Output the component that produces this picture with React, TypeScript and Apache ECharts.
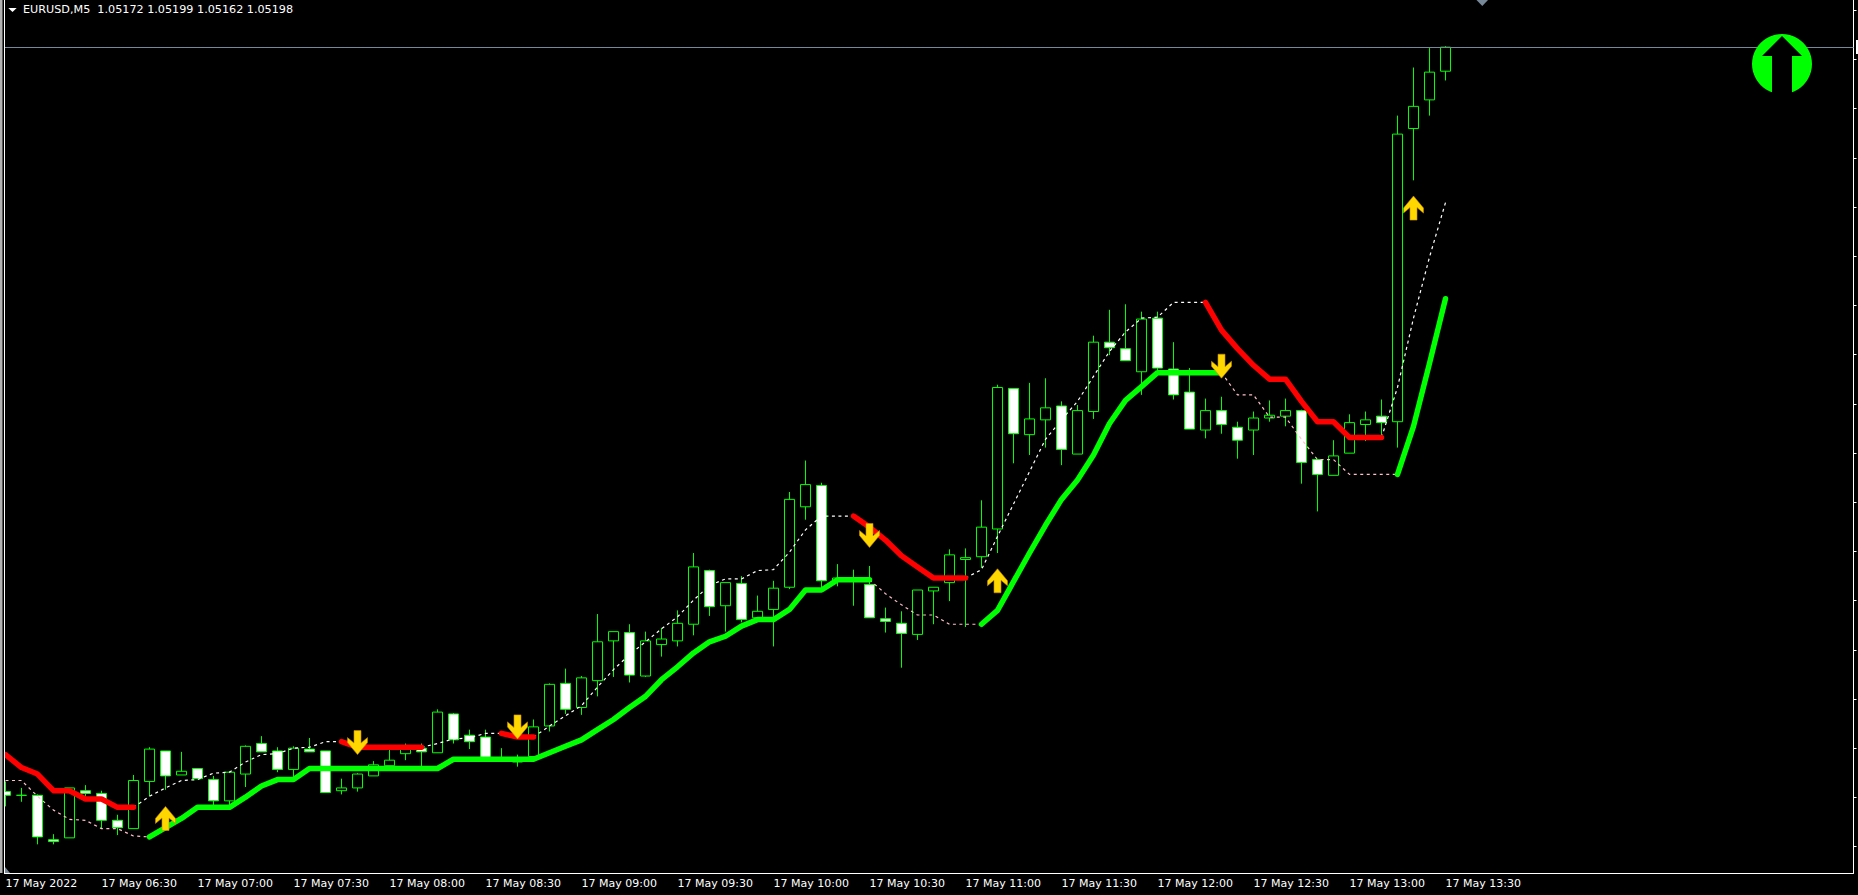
import React, { useEffect, useRef } from "react";
import * as echarts from "echarts";

const tickLabels = [
  "17 May 2022", "17 May 06:30", "17 May 07:00", "17 May 07:30", "17 May 08:00", "17 May 08:30",
  "17 May 09:00", "17 May 09:30", "17 May 10:00", "17 May 10:30", "17 May 11:00", "17 May 11:30",
  "17 May 12:00", "17 May 12:30", "17 May 13:00", "17 May 13:30",
];
const headerText = "EURUSD,M5  1.05172 1.05199 1.05162 1.05198";
const lastPrice = 1.05198;
const priceMin = 1.04305;
const priceMax = 1.05249;
const priceTicks = [
  1.05238, 1.05185, 1.05132, 1.05078, 1.05025, 1.04972, 1.04919, 1.04866, 1.04812,
  1.04759, 1.04706, 1.04653, 1.046, 1.04546, 1.04493, 1.0444, 1.04387, 1.04334,
];

const opens = [
  1.04393, 1.04389, 1.04389, 1.04341, 1.04343, 1.04394, 1.04391, 1.04362, 1.04353, 1.04404,
  1.04437, 1.04411, 1.04418, 1.04406, 1.04383, 1.04412, 1.04445, 1.04437, 1.04417, 1.04439,
  1.04437, 1.04394, 1.04397, 1.0441, 1.04421, 1.04434, 1.0444, 1.04435, 1.04477, 1.04454,
  1.04452, 1.04427, 1.04425, 1.04431, 1.04464, 1.0451, 1.04484, 1.04513, 1.04556, 1.04565,
  1.04518, 1.04552, 1.04556, 1.04574, 1.04632, 1.04594, 1.04618, 1.04581, 1.0459, 1.04614,
  1.04701, 1.04724, 1.04621, 1.04621, 1.04617, 1.0458, 1.04575, 1.04563, 1.0461, 1.04619,
  1.04644, 1.04647, 1.04677, 1.04829, 1.04779, 1.04795, 1.0481, 1.04758, 1.04804, 1.04879,
  1.04872, 1.04847, 1.04905, 1.0485, 1.04825, 1.04784, 1.04805, 1.04787, 1.04784, 1.04797,
  1.04799, 1.04805, 1.04752, 1.04735, 1.04759, 1.0479, 1.04799, 1.04793, 1.0511, 1.05141,
  1.05172,
];
const closes = [
  1.04389, 1.04389, 1.04344, 1.04339, 1.04397, 1.04391, 1.04362, 1.04354, 1.04405, 1.04439,
  1.0441, 1.04415, 1.04407, 1.04383, 1.04414, 1.04442, 1.04436, 1.04417, 1.0444, 1.04436,
  1.04392, 1.04397, 1.04412, 1.04422, 1.04427, 1.04439, 1.04436, 1.04479, 1.04449, 1.04447,
  1.04429, 1.04428, 1.04429, 1.04463, 1.04509, 1.04482, 1.04516, 1.04555, 1.04566, 1.04519,
  1.04556, 1.04558, 1.04575, 1.04636, 1.04593, 1.04619, 1.04579, 1.04588, 1.04613, 1.04709,
  1.04725, 1.04621, 1.04624, 1.04623, 1.04581, 1.04577, 1.04564, 1.04611, 1.04614, 1.04649,
  1.04646, 1.04679, 1.0483, 1.0478, 1.04796, 1.04808, 1.04763, 1.04805, 1.04879, 1.04873,
  1.04859, 1.04904, 1.04851, 1.04822, 1.04785, 1.04805, 1.0479, 1.04773, 1.04797, 1.048,
  1.04805, 1.04749, 1.04736, 1.04756, 1.04792, 1.04795, 1.04792, 1.05104, 1.05134, 1.05171,
  1.05198,
];
const lows = [
  1.04377, 1.04382, 1.04336, 1.04336, 1.04343, 1.04387, 1.04353, 1.04346, 1.04353, 1.04388,
  1.04395, 1.04411, 1.04407, 1.04376, 1.04376, 1.04398, 1.04436, 1.04414, 1.04408, 1.04436,
  1.04392, 1.0439, 1.04393, 1.0441, 1.04421, 1.04427, 1.0442, 1.04435, 1.04445, 1.04439,
  1.04427, 1.04425, 1.0442, 1.04431, 1.04458, 1.04477, 1.04476, 1.04496, 1.04517, 1.04511,
  1.04517, 1.04539, 1.0455, 1.04562, 1.04583, 1.04566, 1.04576, 1.04579, 1.0455, 1.04612,
  1.04687, 1.04613, 1.04615, 1.04594, 1.04581, 1.04565, 1.04527, 1.04557, 1.04574, 1.04599,
  1.04571, 1.04635, 1.04651, 1.04748, 1.04757, 1.04765, 1.04746, 1.04758, 1.04796, 1.04865,
  1.04859, 1.04822, 1.04844, 1.04817, 1.04785, 1.04775, 1.0478, 1.04753, 1.04757, 1.04793,
  1.04788, 1.04726, 1.04696, 1.04735, 1.04759, 1.04772, 1.04776, 1.04765, 1.05054, 1.05124,
  1.05162,
];
const highs = [
  1.04404, 1.04397, 1.0439, 1.04347, 1.04397, 1.044, 1.04394, 1.04368, 1.04411, 1.04441,
  1.04437, 1.04436, 1.04418, 1.0441, 1.04415, 1.04443, 1.04453, 1.04441, 1.04442, 1.04451,
  1.04437, 1.04407, 1.04413, 1.04426, 1.04439, 1.04445, 1.04445, 1.04482, 1.04478, 1.0446,
  1.0446, 1.0444, 1.04433, 1.04471, 1.0451, 1.04526, 1.04518, 1.04585, 1.04566, 1.04574,
  1.04566, 1.0457, 1.04589, 1.04651, 1.04633, 1.04619, 1.04626, 1.04605, 1.04621, 1.04717,
  1.04751, 1.04727, 1.04639, 1.04633, 1.04637, 1.04592, 1.04588, 1.04611, 1.04614, 1.04655,
  1.04656, 1.04708, 1.04833, 1.04829, 1.04835, 1.0484, 1.04815, 1.04811, 1.04886, 1.04914,
  1.0492, 1.04912, 1.04912, 1.04879, 1.04851, 1.04818, 1.0482, 1.04793, 1.04804, 1.04816,
  1.04818, 1.04806, 1.04752, 1.04773, 1.04801, 1.04804, 1.04817, 1.05124, 1.05176, 1.05197,
  1.05199,
];

// Each run: first bar index, then the indicator's value on consecutive bars.
const redRuns: [number, number[]][] = [
  [0, [1.04433, 1.04419, 1.04412, 1.04394, 1.04394, 1.04385, 1.04385, 1.04376, 1.04376]],
  [21, [1.04447, 1.04441, 1.04441, 1.04441, 1.04441, 1.04441]],
  [31, [1.04456, 1.04452, 1.04452]],
  [53, [1.04691, 1.04679, 1.04665, 1.04648, 1.04636, 1.04624, 1.04624, 1.04624]],
  [75, [1.04922, 1.04892, 1.04872, 1.04854, 1.04839, 1.04839, 1.04815, 1.04793, 1.04793, 1.04776, 1.04776, 1.04776]],
];
const greenRuns: [number, number[]][] = [
  [9, [
    1.04344, 1.04354, 1.04364, 1.04376, 1.04376, 1.04376, 1.04387, 1.04399, 1.04406, 1.04406,
    1.04418, 1.04418, 1.04418, 1.04418, 1.04418, 1.04418, 1.04418, 1.04418, 1.04418,
    1.04428, 1.04428, 1.04428, 1.04428, 1.04428, 1.04428,
    1.04435, 1.04442, 1.04449, 1.0446, 1.04471, 1.04484, 1.04496, 1.04514, 1.04528, 1.04543,
    1.04555, 1.04561, 1.04572, 1.04579, 1.04579, 1.0459, 1.04611, 1.04611, 1.04622, 1.04622, 1.04622,
  ]],
  [61, [
    1.04574, 1.04589, 1.0462, 1.04651, 1.04681, 1.04709, 1.0473, 1.04757, 1.04791, 1.04816,
    1.04831, 1.04846, 1.04846, 1.04846, 1.04846, 1.04846,
  ]],
  [87, [1.04736, 1.04788, 1.04856, 1.04926]],
];
const whiteRuns: [number, number[]][] = [
  [8, [1.04376, 1.04388, 1.04397, 1.04405, 1.04406, 1.04413, 1.04414, 1.04425, 1.04433, 1.04434, 1.0444, 1.04441, 1.04447, 1.04447]],
  [26, [1.04441, 1.04445, 1.0445, 1.04451, 1.04456, 1.04456]],
  [33, [
    1.04452, 1.04464, 1.04475, 1.04486, 1.04506, 1.04525, 1.04541, 1.04555, 1.04569, 1.04582,
    1.046, 1.04616, 1.04623, 1.04623, 1.04632, 1.04633, 1.04652, 1.04676, 1.04691, 1.04691, 1.04691,
  ]],
  [60, [
    1.04624, 1.04633, 1.04669, 1.04704, 1.04739, 1.04774, 1.04795, 1.04815, 1.04842, 1.04869,
    1.0489, 1.04905, 1.04906, 1.04922, 1.04922, 1.04922,
  ]],
  [86, [1.04776, 1.0483, 1.04905, 1.04971, 1.0503]],
];
const pinkRuns: [number, number[]][] = [
  [0, [1.04405, 1.04405, 1.04388, 1.04373, 1.04363, 1.04362, 1.04353, 1.04353, 1.04345, 1.04344]],
  [54, [1.04622, 1.04607, 1.04595, 1.04584, 1.04584, 1.04574, 1.04574, 1.04574]],
  [76, [1.04846, 1.04822, 1.04822, 1.04798, 1.04798, 1.04774, 1.04752, 1.04752, 1.04736, 1.04736, 1.04736, 1.04736]],
];
const upArrows: [number, number][] = [[10, 1.04364], [62, 1.04621], [88, 1.05024]];
const downArrows: [number, number][] = [[22, 1.04446], [32, 1.04463], [54, 1.0467], [76, 1.04853]];

const BAR_SLOTS = 116;
const LAST_BAR = 90;
const categories = Array.from({ length: BAR_SLOTS }, (_, i) => {
  const m = 360 + i * 5;
  return `${String(Math.floor(m / 60)).padStart(2, "0")}:${String(m % 60).padStart(2, "0")}`;
});
const candleData = opens.map((o, i) => [o, closes[i], lows[i], highs[i]]);
const fromRuns = (runs: [number, number[]][]) => {
  const out: (number | null)[] = new Array(BAR_SLOTS).fill(null);
  runs.forEach(([start, vals]) => vals.forEach((v, i) => { out[start + i] = v; }));
  return out;
};
const showTick = (i: number) => i % 6 === 0 && i <= LAST_BAR;

const UP_ARROW = "path://M10 0 L20 12 L20 17 L13.5 11.5 L13.5 24 L6.5 24 L6.5 11.5 L0 17 L0 12 Z";
const DOWN_ARROW = "path://M10 24 L20 12 L20 7 L13.5 12.5 L13.5 0 L6.5 0 L6.5 12.5 L0 7 L0 12 Z";
const FONT = "'DejaVu Sans', sans-serif";
const SHIFT = 3; // the chart div starts this far left of the page

export default function App() {
  const ref = useRef<HTMLDivElement>(null);
  useEffect(() => {
    document.body.style.margin = "0";
    document.body.style.background = "#000";
    const chart = echarts.init(ref.current!, null, { renderer: "svg" });
    const thick = (name: string, runs: [number, number[]][], color: string) => ({
      name, type: "line", data: fromRuns(runs), showSymbol: false, symbol: "none", z: 5,
      connectNulls: false, silent: true,
      lineStyle: { color, width: 5.5, cap: "round", join: "round" },
    });
    const dashed = (name: string, runs: [number, number[]][], color: string, extra: object = {}) => ({
      name, type: "line", data: fromRuns(runs), showSymbol: false, symbol: "none", z: 4,
      connectNulls: false, silent: true,
      lineStyle: { color, width: 1.2, type: [3, 3.5] },
      ...extra,
    });
    const arrows = (name: string, data: [number, number][], symbol: string) => ({
      name, type: "scatter", data, symbol, symbolSize: [20, 24], z: 6, silent: true,
      itemStyle: { color: "#FFD700", borderColor: "#C88A00", borderWidth: 0.6, opacity: 1 },
    });
    const graphicZ = 100;
    chart.setOption({
      animation: false,
      backgroundColor: "#000000",
      title: {
        text: headerText, left: 23 + SHIFT, top: 4, padding: 0,
        textStyle: { color: "#ffffff", fontSize: 11.2, fontWeight: "normal", fontFamily: FONT },
      },
      grid: { left: 0.5, right: 4.5, top: 0, bottom: 22, containLabel: false },
      xAxis: {
        type: "category", data: categories, boundaryGap: true,
        axisLine: { lineStyle: { color: "#ffffff", width: 1 }, onZero: false },
        axisTick: { alignWithLabel: true, length: 3, interval: (i: number) => showTick(i), lineStyle: { color: "#ffffff" } },
        axisLabel: {
          color: "#ffffff", fontSize: 11, fontFamily: FONT, align: "left", margin: 5,
          interval: (i: number) => showTick(i),
          formatter: (_: string, i: number) => tickLabels[i / 6] ?? "",
        },
        splitLine: { show: false },
      },
      yAxis: {
        type: "value", position: "right", min: priceMin, max: priceMax, scale: true,
        axisLine: { show: true, lineStyle: { color: "#ffffff", width: 1 } },
        axisTick: { show: true, length: 3, customValues: priceTicks, lineStyle: { color: "#ffffff" } },
        axisLabel: { show: false },
        splitLine: { show: false },
      },
      series: [
        {
          name: "EURUSD", type: "candlestick", data: candleData, barWidth: 11, z: 2, silent: true,
          itemStyle: {
            color: "#000000", color0: "#ffffff",
            borderColor: "#00ff00", borderColor0: "#00ff00", borderColorDoji: "#00ff00", borderWidth: 1,
          },
        },
        dashed("pink", pinkRuns, "#FFC0CB"),
        dashed("white", whiteRuns, "#ffffff", {
          markLine: {
            silent: true, symbol: "none", animation: false, precision: 5,
            label: { show: false },
            lineStyle: { color: "#778899", width: 1, type: "solid" },
            data: [{ yAxis: lastPrice }],
          },
        }),
        thick("green", greenRuns, "#00FF00"),
        thick("red", redRuns, "#FF0000"),
        arrows("up", upArrows, UP_ARROW),
        arrows("down", downArrows, DOWN_ARROW),
      ],
      graphic: { elements: [
        {
          type: "group", x: SHIFT, y: 0, z: graphicZ,
          children: [
            { type: "rect", z: graphicZ, shape: { x: -SHIFT, y: 0, width: 4 + SHIFT, height: 895 }, style: { fill: "#000000" } },
            { type: "rect", z: graphicZ, shape: { x: 0, y: 0, width: 2.5, height: 873 }, style: { fill: "#B0B0B0" } },
            { type: "line", z: graphicZ, shape: { x1: 4.5, y1: 0, x2: 4.5, y2: 873 }, style: { stroke: "#ffffff", lineWidth: 1 } },
            { type: "polygon", z: graphicZ, shape: { points: [[5, 873], [5, 867], [10, 873]] }, style: { fill: "#778899" } },
            { type: "polygon", z: graphicZ, shape: { points: [[8.3, 8], [16.7, 8], [12.5, 12]] }, style: { fill: "#ffffff" } },
            { type: "polygon", z: graphicZ, shape: { points: [[1476.5, 0], [1488, 0], [1482.3, 6]] }, style: { fill: "#778899" } },
            { type: "rect", z: graphicZ, shape: { x: 1856, y: 40, width: 2, height: 14 }, style: { fill: "#ffffff" } },
            { type: "circle", z: graphicZ, shape: { cx: 1782, cy: 64, r: 30 }, style: { fill: "#00FF00" } },
            { type: "polygon", z: graphicZ + 1, shape: { points: [[1782, 36], [1802, 56], [1792, 56], [1792, 95], [1772, 95], [1772, 56], [1762, 56]] }, style: { fill: "#000000" } },
          ],
        },
      ] },
    });
    return () => chart.dispose();
  }, []);
  return <div ref={ref} style={{ position: "fixed", left: -SHIFT, top: 0, width: 1858 + SHIFT, height: 895 }} />;
}
